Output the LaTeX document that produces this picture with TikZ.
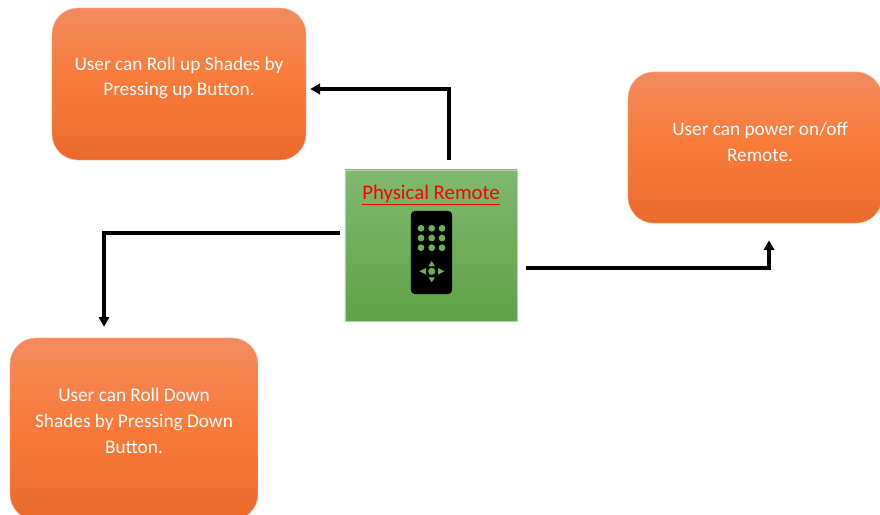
\documentclass[tikz,border=0pt]{standalone}
\usepackage{fontspec}
\setmainfont{Carlito}
\usepackage{xcolor}
\usetikzlibrary{calc, arrows.meta}

\definecolor{shadetop}{HTML}{F38B5E}
\definecolor{shademid}{HTML}{F97A38}
\definecolor{shadebot}{HTML}{E96A2B}
\definecolor{remotetop}{HTML}{7FB96F}
\definecolor{remotebot}{HTML}{5FA246}
\definecolor{remotekey}{HTML}{6DAF55}

\tikzset{
  shadebox/.style={rectangle, rounded corners=0.65cm, draw=shadetop!60!white, line width=0.3pt,
    top color=shadetop, bottom color=shadebot, middle color=shademid},
  shadetext/.style={align=center, text=white, font=\fontsize{13.7}{18.4}\selectfont},
  flow/.style={->, line width=2.3pt},
  keydot/.style={circle, fill=remotekey, inner sep=0pt, minimum size=0.17cm},
  keytip/.style={fill=remotekey}
}

\begin{document}
\begin{tikzpicture}[>={Triangle[length=7pt,width=7.5pt]}, x=0.025cm, y=-0.025cm]
  \clip (0,0) rectangle (880,514);
  \fill[white] (0,0) rectangle (880,514);

  \node[shadebox, minimum width=6.35cm, minimum height=3.8cm] (upbox) at (179,84) {};
  \node[shadebox, minimum width=6.35cm, minimum height=3.78cm] (powerbox) at (755,147.5) {};
  \node[shadebox, minimum width=6.2cm, minimum height=4.55cm] (downbox) at (134,429) {};
  \node[shadetext] (uptext) at (179,78) {User can Roll up Shades by\\Pressing up Button.};
  \node[shadetext] (powertext) at (760,142) {User can power on/off\\Remote.};
  \node[shadetext] (downtext) at (134,421) {User can Roll Down\\Shades by Pressing Down\\Button.};

  \node[rectangle, draw=remotetop!60!white, line width=0.3pt, top color=remotetop, bottom color=remotebot,
    minimum width=4.3cm, minimum height=3.78cm] (remote) at (431,245.5) {};
  \node[text=red, font=\fontsize{14.8}{16}\selectfont] (remotetitle) at (431,195) {\underline{Physical Remote}};

  % remote icon
  \node[rectangle, fill=black, rounded corners=0.1cm, minimum width=1.03cm, minimum height=2.08cm] (handset) at (431.5,252.5) {};
  \foreach \px in {421,431.7,442}
    \foreach \py in {228.3,238,247.7}
      \node[keydot] at (\px,\py) {};
  \node[keydot, minimum size=0.18cm] (padkey) at (431.7,271.3) {};
  \fill[keytip] (431.7,261) -- (435,266.3) -- (428.4,266.3) -- cycle;
  \fill[keytip] (431.7,282.3) -- (435,277.3) -- (428.4,277.3) -- cycle;
  \fill[keytip] (419.3,271.3) -- (426,268) -- (426,274.6) -- cycle;
  \fill[keytip] (444.3,271.3) -- (438,268) -- (438,274.6) -- cycle;

  \draw[flow] ($(remote.north)+(18,-10)$) |- ($(upbox.east)+(4,5)$);
  \draw[flow] ($(remote.west)+(-5,-12.5)$) -| ($(downbox.north)+(-30,-11)$);
  \draw[flow] ($(remote.east)+(9,22.5)$) -| ($(powerbox.south)+(14,17)$);
\end{tikzpicture}
\end{document}
